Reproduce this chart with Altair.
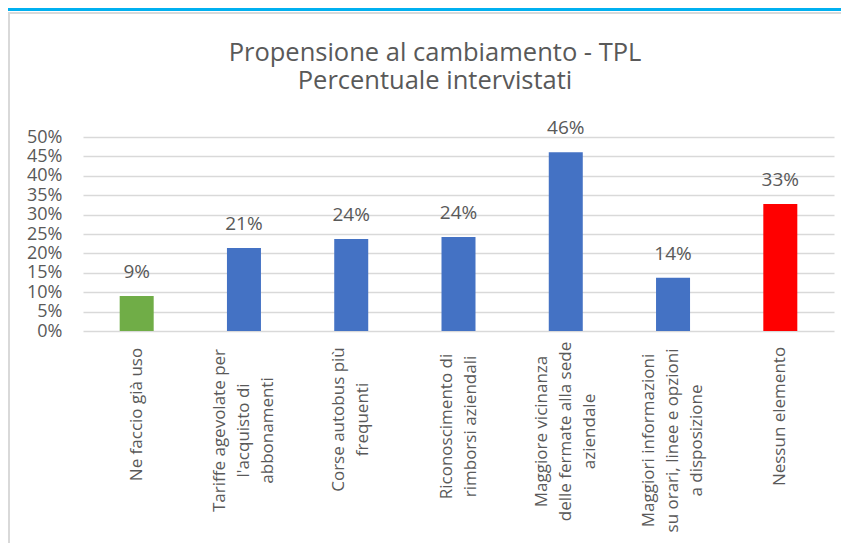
import altair as alt
import pandas as pd

# ---- data ----
categories = [
    "Ne faccio già uso",
    "Tariffe agevolate per|l'acquisto di|abbonamenti",
    "Corse autobus più|frequenti",
    "Riconoscimento di|rimborsi aziendali",
    "Maggiore vicinanza|delle fermate alla sede|aziendale",
    "Maggiori informazioni|su orari, linee e opzioni|a disposizione",
    "Nessun elemento",
]
values = [0.09, 0.214, 0.237, 0.242, 0.461, 0.137, 0.327]
bar_colors = ["#70AD47", "#4472C4", "#4472C4", "#4472C4", "#4472C4", "#4472C4", "#FF0000"]
y_ticks = [0, 0.05, 0.10, 0.15, 0.20, 0.25, 0.30, 0.35, 0.40, 0.45, 0.50]
title_lines = ["Propensione al cambiamento - TPL", "Percentuale intervistati"]

df = pd.DataFrame({"cat": categories, "val": values})

FONT = "Open Sans"
GREY = "#595959"
LINE_H = 24

# per-label offsets: start each label block just below the axis and centre its lines on the bar
pads = [83, 99, 88, 95, 100, 109, 85]
pad_cond = [{"test": 'datum.value === "%s"' % c, "value": p} for c, p in zip(categories, pads)]
off_cond = [
    {"test": 'datum.value === "%s"' % c, "value": -(c.count("|")) * LINE_H / 2}
    for c in categories
]

x_enc = alt.X(
    "cat:N",
    sort=categories,
    scale=alt.Scale(paddingInner=0.683, paddingOuter=0.342),
    axis=alt.Axis(
        title=None,
        labelAngle=270,
        labelAlign="center",
        labelBaseline="middle",
        labelExpr="split(datum.label, '|')",
        labelFont=FONT,
        labelFontSize=17,
        labelColor=GREY,
        labelLineHeight=LINE_H,
        labelLimit=400,
        labelOverlap=False,
        labelPadding={"condition": pad_cond, "value": 90},
        labelOffset={"condition": off_cond, "value": 0},
        ticks=False,
        domain=False,
        grid=False,
    ),
)

y_enc = alt.Y(
    "val:Q",
    scale=alt.Scale(domain=[0, 0.5], nice=False),
    axis=alt.Axis(
        title=None,
        values=y_ticks,
        format=".0%",
        labelFont=FONT,
        labelFontSize=18,
        labelColor=GREY,
        labelPadding=21,
        labelOverlap=False,
        labelBound=False,
        labelFlush=False,
        ticks=False,
        domain=False,
        grid=True,
        gridColor="#D9D9D9",
        gridWidth=1.5,
    ),
)

base = alt.Chart(df).encode(x=x_enc, y=y_enc)

bars = base.mark_bar().encode(
    color=alt.Color("cat:N", scale=alt.Scale(domain=categories, range=bar_colors), legend=None),
)

labels = base.mark_text(
    font=FONT, fontSize=19, color=GREY, baseline="alphabetic", dy=-18
).encode(
    text=alt.Text("val:Q", format=".0%"),
)

deco = alt.Data(values=[{"k": 1}])
title = alt.Chart(deco).mark_text(
    text=title_lines, font=FONT, fontSize=25.5, color=GREY,
    align="center", baseline="alphabetic", lineHeight=28,
).encode(x=alt.value(352), y=alt.value(-76))

blue_strip = alt.Chart(deco).mark_rule(color="#00B0F0", strokeWidth=3).encode(
    x=alt.value(-75), x2=alt.value(760), y=alt.value(-127.5)
)
frame_top = alt.Chart(deco).mark_rule(color="#D9D9D9", strokeWidth=2).encode(
    x=alt.value(-75), x2=alt.value(760), y=alt.value(-124)
)
frame_left = alt.Chart(deco).mark_rule(color="#D9D9D9", strokeWidth=2).encode(
    x=alt.value(-74), y=alt.value(-125), y2=alt.value(410)
)

chart = alt.layer(bars, labels, title, blue_strip, frame_top, frame_left).properties(
    width=751,
    height=194,
    autosize=alt.AutoSizeParams(type="none"),
    padding={"left": 75, "top": 129, "right": 7, "bottom": 212},
    background="white",
).configure_view(stroke=None)

chart.save("out.html", embed_options={"renderer": "svg", "actions": False})
